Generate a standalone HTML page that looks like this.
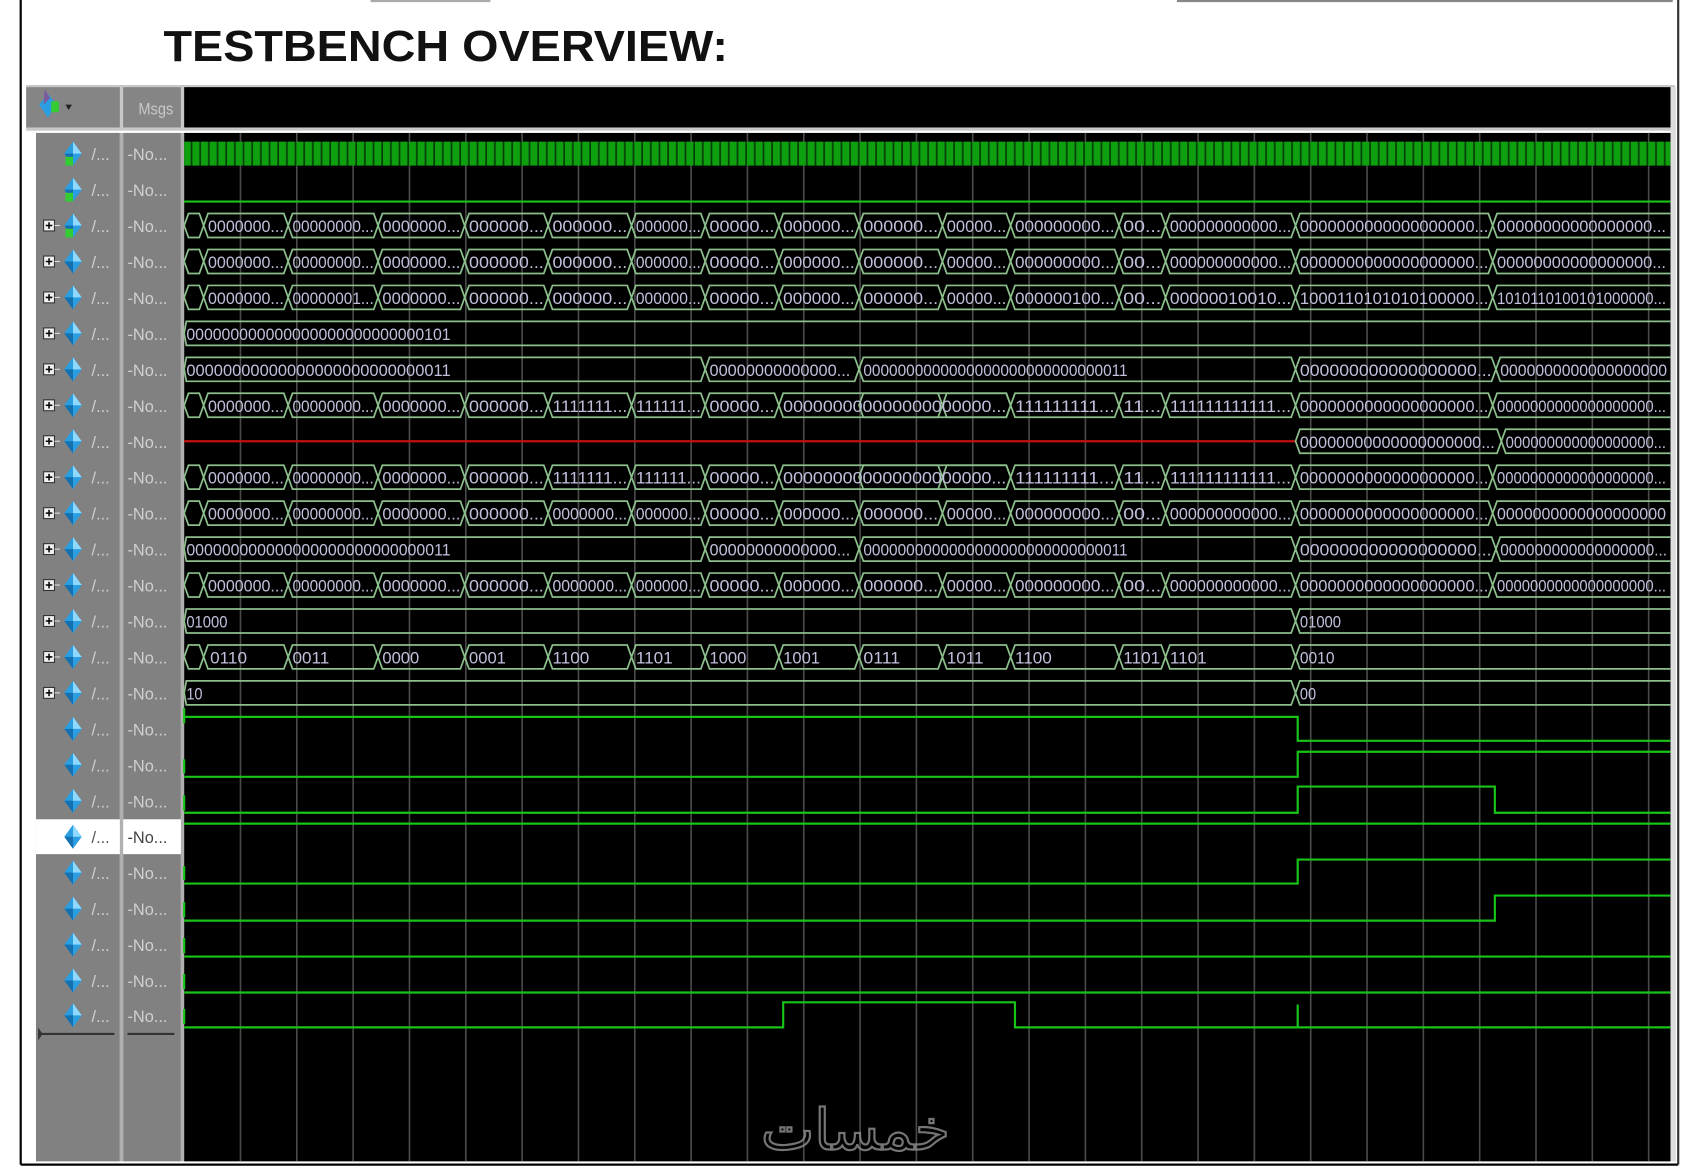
<!DOCTYPE html>
<html><head><meta charset="utf-8"><style>
html,body{margin:0;padding:0;background:#fff;width:1700px;height:1169px;overflow:hidden}
svg{display:block}
.t{font-family:"Liberation Sans",sans-serif;font-size:15px;fill:#c0c0dc}
.l{font-family:"Liberation Sans",sans-serif;font-size:15px;fill:#d0d0d0}
.b{fill:none;stroke:#8cbf8c;stroke-width:1.6}
.g{fill:none;stroke:#19c419;stroke-width:2}
</style></head><body>
<svg width="1700" height="1169" viewBox="0 0 1560 1073" preserveAspectRatio="none" xmlns="http://www.w3.org/2000/svg">
<defs>
<pattern id="clk" x="169" y="0" width="8" height="30" patternUnits="userSpaceOnUse">
<rect width="8" height="30" fill="#0fa00f"/><rect x="6" width="1.6" height="30" fill="#064006"/>
</pattern>
<g id="diam"><polygon points="0,-11 8,0 0,11 -8,0" fill="#2a9ee0"/><polygon points="0,-11 8,0 0,0" fill="#8fd8ff"/><polygon points="0,11 -8,0 0,0" fill="#1570b0"/></g>
<g id="plus"><rect x="-5" y="-5" width="10" height="10" fill="#f0f0f0" stroke="#333" stroke-width="1"/><path d="M-3,0H3M0,-3V3" stroke="#000" stroke-width="1.4"/><path d="M5,0H10" stroke="#ddd" stroke-width="1"/></g>
<g id="busB">
<polygon class="b" points="169,0 173,-11 183,-11 187,0 183,11 173,11"/>
<polygon class="b" points="187,0 191,-11 261,-11 265,0 261,11 191,11"/>
<polygon class="b" points="265,0 269,-11 344,-11 348,0 344,11 269,11"/>
<polygon class="b" points="348,0 352,-11 424,-11 428,0 424,11 352,11"/>
<polygon class="b" points="428,0 432,-11 501,-11 505,0 501,11 432,11"/>
<polygon class="b" points="505,0 509,-11 578,-11 582,0 578,11 509,11"/>
<polygon class="b" points="582,0 586,-11 646,-11 650,0 646,11 586,11"/>
<polygon class="b" points="650,0 654,-11 714,-11 718,0 714,11 654,11"/>
<polygon class="b" points="792,0 796,-11 865,-11 869,0 865,11 796,11"/>
<polygon class="b" points="869,0 873,-11 928,-11 932,0 928,11 873,11"/>
<polygon class="b" points="932,0 936,-11 1028,-11 1032,0 1028,11 936,11"/>
<polygon class="b" points="1032,0 1036,-11 1071,-11 1075,0 1071,11 1036,11"/>
<polygon class="b" points="1075,0 1079,-11 1191,-11 1195,0 1191,11 1079,11"/>
</g>
<g id="busTail"><polygon class="b" points="1195,0 1199,-11 1373,-11 1377,0 1373,11 1199,11"/><polyline class="b" points="1541,-11 1381,-11 1377,0 1381,11 1541,11"/></g>
<g id="seg718"><polygon class="b" points="718,0 722,-11 788,-11 792,0 788,11 722,11"/></g>
<g id="seg718b"><polygon class="b" points="718,0 722,-11 928,-11 932,0 928,11 722,11"/></g>
<g id="busC">
<polygon class="b" points="169,0 171,-11 646,-11 650,0 646,11 171,11"/>
<polygon class="b" points="650,0 654,-11 788,-11 792,0 788,11 654,11"/>
<polygon class="b" points="792,0 796,-11 1191,-11 1195,0 1191,11 796,11"/>
<polygon class="b" points="1195,0 1199,-11 1376,-11 1380,0 1376,11 1199,11"/>
<polyline class="b" points="1541,-11 1384,-11 1380,0 1384,11 1541,11"/>
</g>
<g id="busD">
<polygon class="b" points="169,0 171,-11 1191,-11 1195,0 1191,11 171,11"/>
<polyline class="b" points="1541,-11 1199,-11 1195,0 1199,11 1541,11"/>
</g>
</defs>

<!-- frame -->
<rect width="1560" height="1073" fill="#fff"/>
<line x1="19" y1="0" x2="19" y2="1069" stroke="#000" stroke-width="2"/>
<line x1="19" y1="1069" x2="1540" y2="1069" stroke="#000" stroke-width="2"/>
<line x1="1540" y1="0" x2="1540" y2="1069" stroke="#333" stroke-width="2"/>
<line x1="340" y1="1" x2="450" y2="1" stroke="#aaa" stroke-width="2"/>
<line x1="1080" y1="1" x2="1535" y2="1" stroke="#888" stroke-width="2"/>
<text x="150" y="56" font-family="Liberation Sans,sans-serif" font-weight="bold" font-size="40" textLength="518" lengthAdjust="spacingAndGlyphs" fill="#111">TESTBENCH OVERVIEW:</text>

<!-- header -->
<rect x="24" y="78" width="1513" height="42" fill="#c8c8c8"/>
<rect x="24" y="80" width="86" height="37" fill="#858585"/>
<rect x="113" y="80" width="53" height="37" fill="#858585"/>
<rect x="169" y="80" width="1364" height="37" fill="#000"/>
<polygon points="44,86 52,96 44,108 36,96" fill="#2a9ee0"/><rect x="47" y="93" width="7" height="10" fill="#3c3"/><polygon points="41,82 46,90 40,96" fill="#7a5aa0"/>
<polygon points="60,96 66,96 63,101" fill="#222"/>
<text x="127" y="105" class="l" textLength="32" lengthAdjust="spacingAndGlyphs" style="fill:#c8c8c8">Msgs</text>

<!-- panels -->
<rect x="33" y="122" width="77" height="944" fill="#818181"/>
<rect x="113" y="122" width="53" height="944" fill="#818181"/>
<rect x="110" y="122" width="3" height="944" fill="#b0b0b0"/>
<rect x="166" y="122" width="3" height="944" fill="#b0b0b0"/>
<rect x="169" y="122" width="1364" height="944" fill="#000"/>
<rect x="1533" y="80" width="5" height="986" fill="#ddd"/>
<rect x="33" y="752" width="77" height="32" fill="#fff"/>
<rect x="113" y="752" width="53" height="32" fill="#fff"/>
<line x1="36" y1="949" x2="105" y2="949" stroke="#333" stroke-width="2"/>
<polygon points="35,943 39,949 35,955" fill="#333"/>
<line x1="117" y1="949" x2="160" y2="949" stroke="#333" stroke-width="2"/>

<!-- left labels -->
<g>
<use href="#diam" x="67" y="141"/><use href="#diam" x="67" y="174"/><use href="#diam" x="67" y="207"/><use href="#diam" x="67" y="240"/><use href="#diam" x="67" y="273"/><use href="#diam" x="67" y="306"/><use href="#diam" x="67" y="339"/><use href="#diam" x="67" y="372"/><use href="#diam" x="67" y="405"/><use href="#diam" x="67" y="438"/><use href="#diam" x="67" y="471"/><use href="#diam" x="67" y="504"/><use href="#diam" x="67" y="537"/><use href="#diam" x="67" y="570"/><use href="#diam" x="67" y="603"/><use href="#diam" x="67" y="636"/><use href="#diam" x="67" y="669"/><use href="#diam" x="67" y="702"/><use href="#diam" x="67" y="735"/><use href="#diam" x="67" y="768"/><use href="#diam" x="67" y="801"/><use href="#diam" x="67" y="834"/><use href="#diam" x="67" y="867"/><use href="#diam" x="67" y="900"/><use href="#diam" x="67" y="932"/>
<rect x="60" y="144" width="7" height="8" fill="#3c3"/><rect x="60" y="177" width="7" height="8" fill="#3c3"/><rect x="60" y="210" width="7" height="8" fill="#3c3"/>
<use href="#plus" x="45" y="207"/><use href="#plus" x="45" y="240"/><use href="#plus" x="45" y="273"/><use href="#plus" x="45" y="306"/><use href="#plus" x="45" y="339"/><use href="#plus" x="45" y="372"/><use href="#plus" x="45" y="405"/><use href="#plus" x="45" y="438"/><use href="#plus" x="45" y="471"/><use href="#plus" x="45" y="504"/><use href="#plus" x="45" y="537"/><use href="#plus" x="45" y="570"/><use href="#plus" x="45" y="603"/><use href="#plus" x="45" y="636"/>
</g>
<g class="l">
<text x="84" y="147">/...</text><text x="117" y="147">-No...</text>
<text x="84" y="180">/...</text><text x="117" y="180">-No...</text>
<text x="84" y="213">/...</text><text x="117" y="213">-No...</text>
<text x="84" y="246">/...</text><text x="117" y="246">-No...</text>
<text x="84" y="279">/...</text><text x="117" y="279">-No...</text>
<text x="84" y="312">/...</text><text x="117" y="312">-No...</text>
<text x="84" y="345">/...</text><text x="117" y="345">-No...</text>
<text x="84" y="378">/...</text><text x="117" y="378">-No...</text>
<text x="84" y="411">/...</text><text x="117" y="411">-No...</text>
<text x="84" y="444">/...</text><text x="117" y="444">-No...</text>
<text x="84" y="477">/...</text><text x="117" y="477">-No...</text>
<text x="84" y="510">/...</text><text x="117" y="510">-No...</text>
<text x="84" y="543">/...</text><text x="117" y="543">-No...</text>
<text x="84" y="576">/...</text><text x="117" y="576">-No...</text>
<text x="84" y="609">/...</text><text x="117" y="609">-No...</text>
<text x="84" y="642">/...</text><text x="117" y="642">-No...</text>
<text x="84" y="675">/...</text><text x="117" y="675">-No...</text>
<text x="84" y="708">/...</text><text x="117" y="708">-No...</text>
<text x="84" y="741">/...</text><text x="117" y="741">-No...</text>
<text x="84" y="774" style="fill:#555">/...</text><text x="117" y="774" style="fill:#444">-No...</text>
<text x="84" y="807">/...</text><text x="117" y="807">-No...</text>
<text x="84" y="840">/...</text><text x="117" y="840">-No...</text>
<text x="84" y="873">/...</text><text x="117" y="873">-No...</text>
<text x="84" y="906">/...</text><text x="117" y="906">-No...</text>
<text x="84" y="938">/...</text><text x="117" y="938">-No...</text>
</g>

<g transform="translate(169,0) scale(0.994,1) translate(-169,0)">
<!-- grid -->
<g stroke="#4a4a4a" stroke-width="1.5">
<line x1="221" y1="122" x2="221" y2="1066"/><line x1="273" y1="122" x2="273" y2="1066"/><line x1="325" y1="122" x2="325" y2="1066"/><line x1="377" y1="122" x2="377" y2="1066"/><line x1="429" y1="122" x2="429" y2="1066"/><line x1="481" y1="122" x2="481" y2="1066"/><line x1="533" y1="122" x2="533" y2="1066"/><line x1="585" y1="122" x2="585" y2="1066"/><line x1="637" y1="122" x2="637" y2="1066"/><line x1="689" y1="122" x2="689" y2="1066"/><line x1="741" y1="122" x2="741" y2="1066"/><line x1="793" y1="122" x2="793" y2="1066"/><line x1="845" y1="122" x2="845" y2="1066"/><line x1="897" y1="122" x2="897" y2="1066"/><line x1="949" y1="122" x2="949" y2="1066"/><line x1="1001" y1="122" x2="1001" y2="1066"/><line x1="1053" y1="122" x2="1053" y2="1066"/><line x1="1105" y1="122" x2="1105" y2="1066"/><line x1="1157" y1="122" x2="1157" y2="1066"/><line x1="1209" y1="122" x2="1209" y2="1066"/><line x1="1261" y1="122" x2="1261" y2="1066"/><line x1="1313" y1="122" x2="1313" y2="1066"/><line x1="1365" y1="122" x2="1365" y2="1066"/><line x1="1417" y1="122" x2="1417" y2="1066"/><line x1="1469" y1="122" x2="1469" y2="1066"/><line x1="1521" y1="122" x2="1521" y2="1066"/>
</g>

<rect x="169" y="130" width="1372" height="22" fill="url(#clk)"/>
<line class="g" x1="169" y1="185" x2="1541" y2="185"/>

<g transform="translate(0,207)"><use href="#busB"/><use href="#seg718"/><use href="#busTail"/>
<g class="t"><text x="191" y="6" textLength="70" lengthAdjust="spacingAndGlyphs">0000000...</text><text x="269" y="6" textLength="75" lengthAdjust="spacingAndGlyphs">00000000...</text><text x="352" y="6" textLength="72" lengthAdjust="spacingAndGlyphs">0000000...</text><text x="432" y="6" textLength="69" lengthAdjust="spacingAndGlyphs">000000...</text><text x="509" y="6" textLength="69" lengthAdjust="spacingAndGlyphs">000000...</text><text x="586" y="6" textLength="60" lengthAdjust="spacingAndGlyphs">000000...</text><text x="654" y="6" textLength="60" lengthAdjust="spacingAndGlyphs">00000...</text><text x="722" y="6" textLength="66" lengthAdjust="spacingAndGlyphs">000000...</text><text x="796" y="6" textLength="69" lengthAdjust="spacingAndGlyphs">000000...</text><text x="873" y="6" textLength="55" lengthAdjust="spacingAndGlyphs">00000...</text><text x="936" y="6" textLength="92" lengthAdjust="spacingAndGlyphs">000000000...</text><text x="1036" y="6" textLength="35" lengthAdjust="spacingAndGlyphs">00...</text><text x="1079" y="6" textLength="112" lengthAdjust="spacingAndGlyphs">000000000000...</text><text x="1199" y="6" textLength="174" lengthAdjust="spacingAndGlyphs">0000000000000000000...</text><text x="1381" y="6" textLength="156" lengthAdjust="spacingAndGlyphs">00000000000000000...</text></g></g>

<g transform="translate(0,240)"><use href="#busB"/><use href="#seg718"/><use href="#busTail"/>
<g class="t"><text x="191" y="6" textLength="70" lengthAdjust="spacingAndGlyphs">0000000...</text><text x="269" y="6" textLength="75" lengthAdjust="spacingAndGlyphs">00000000...</text><text x="352" y="6" textLength="72" lengthAdjust="spacingAndGlyphs">0000000...</text><text x="432" y="6" textLength="69" lengthAdjust="spacingAndGlyphs">000000...</text><text x="509" y="6" textLength="69" lengthAdjust="spacingAndGlyphs">000000...</text><text x="586" y="6" textLength="60" lengthAdjust="spacingAndGlyphs">000000...</text><text x="654" y="6" textLength="60" lengthAdjust="spacingAndGlyphs">00000...</text><text x="722" y="6" textLength="66" lengthAdjust="spacingAndGlyphs">000000...</text><text x="796" y="6" textLength="69" lengthAdjust="spacingAndGlyphs">000000...</text><text x="873" y="6" textLength="55" lengthAdjust="spacingAndGlyphs">00000...</text><text x="936" y="6" textLength="92" lengthAdjust="spacingAndGlyphs">000000000...</text><text x="1036" y="6" textLength="35" lengthAdjust="spacingAndGlyphs">00...</text><text x="1079" y="6" textLength="112" lengthAdjust="spacingAndGlyphs">000000000000...</text><text x="1199" y="6" textLength="174" lengthAdjust="spacingAndGlyphs">0000000000000000000...</text><text x="1381" y="6" textLength="156" lengthAdjust="spacingAndGlyphs">00000000000000000...</text></g></g>

<g transform="translate(0,273)"><use href="#busB"/><use href="#seg718"/><use href="#busTail"/>
<g class="t"><text x="191" y="6" textLength="70" lengthAdjust="spacingAndGlyphs">0000000...</text><text x="269" y="6" textLength="75" lengthAdjust="spacingAndGlyphs">00000001...</text><text x="352" y="6" textLength="72" lengthAdjust="spacingAndGlyphs">0000000...</text><text x="432" y="6" textLength="69" lengthAdjust="spacingAndGlyphs">000000...</text><text x="509" y="6" textLength="69" lengthAdjust="spacingAndGlyphs">000000...</text><text x="586" y="6" textLength="60" lengthAdjust="spacingAndGlyphs">000000...</text><text x="654" y="6" textLength="60" lengthAdjust="spacingAndGlyphs">00000...</text><text x="722" y="6" textLength="66" lengthAdjust="spacingAndGlyphs">000000...</text><text x="796" y="6" textLength="69" lengthAdjust="spacingAndGlyphs">000000...</text><text x="873" y="6" textLength="55" lengthAdjust="spacingAndGlyphs">00000...</text><text x="936" y="6" textLength="92" lengthAdjust="spacingAndGlyphs">000000100...</text><text x="1036" y="6" textLength="35" lengthAdjust="spacingAndGlyphs">00...</text><text x="1079" y="6" textLength="112" lengthAdjust="spacingAndGlyphs">00000010010...</text><text x="1199" y="6" textLength="174" lengthAdjust="spacingAndGlyphs">1000110101010100000...</text><text x="1381" y="6" textLength="156" lengthAdjust="spacingAndGlyphs">1010110100101000000...</text></g></g>

<g transform="translate(0,306)"><polyline class="b" points="1541,-11 171,-11 169,0 171,11 1541,11"/>
<text class="t" x="171" y="6" textLength="244" lengthAdjust="spacingAndGlyphs">000000000000000000000000000101</text></g>

<g transform="translate(0,339)"><use href="#busC"/>
<g class="t"><text x="171" y="6" textLength="244" lengthAdjust="spacingAndGlyphs">00000000000000000000000000011</text><text x="654" y="6" textLength="130" lengthAdjust="spacingAndGlyphs">00000000000000...</text><text x="796" y="6" textLength="244" lengthAdjust="spacingAndGlyphs">0000000000000000000000000000011</text><text x="1199" y="6" textLength="177" lengthAdjust="spacingAndGlyphs">000000000000000000...</text><text x="1384" y="6" textLength="154" lengthAdjust="spacingAndGlyphs">0000000000000000000</text></g></g>

<g transform="translate(0,372)"><use href="#busB"/><use href="#seg718b"/><use href="#busTail"/>
<g class="t"><text x="191" y="6" textLength="70" lengthAdjust="spacingAndGlyphs">0000000...</text><text x="269" y="6" textLength="75" lengthAdjust="spacingAndGlyphs">00000000...</text><text x="352" y="6" textLength="72" lengthAdjust="spacingAndGlyphs">0000000...</text><text x="432" y="6" textLength="69" lengthAdjust="spacingAndGlyphs">000000...</text><text x="509" y="6" textLength="69" lengthAdjust="spacingAndGlyphs">1111111...</text><text x="586" y="6" textLength="60" lengthAdjust="spacingAndGlyphs">111111...</text><text x="654" y="6" textLength="60" lengthAdjust="spacingAndGlyphs">00000...</text><text x="722" y="6" textLength="206" lengthAdjust="spacingAndGlyphs">000000000000000000000...</text><text x="936" y="6" textLength="92" lengthAdjust="spacingAndGlyphs">111111111...</text><text x="1036" y="6" textLength="35" lengthAdjust="spacingAndGlyphs">11...</text><text x="1079" y="6" textLength="112" lengthAdjust="spacingAndGlyphs">111111111111...</text><text x="1199" y="6" textLength="174" lengthAdjust="spacingAndGlyphs">0000000000000000000...</text><text x="1381" y="6" textLength="156" lengthAdjust="spacingAndGlyphs">0000000000000000000...</text></g></g>

<g transform="translate(0,405)"><line x1="169" y1="0" x2="1195" y2="0" stroke="#c01010" stroke-width="2"/>
<polygon class="b" points="1195,0 1199,-11 1381,-11 1385,0 1381,11 1199,11"/><polyline class="b" points="1541,-11 1389,-11 1385,0 1389,11 1541,11"/>
<g class="t"><text x="1199" y="6" textLength="180" lengthAdjust="spacingAndGlyphs">00000000000000000000...</text><text x="1389" y="6" textLength="148" lengthAdjust="spacingAndGlyphs">000000000000000000...</text></g></g>

<g transform="translate(0,438)"><use href="#busB"/><use href="#seg718b"/><use href="#busTail"/>
<g class="t"><text x="191" y="6" textLength="70" lengthAdjust="spacingAndGlyphs">0000000...</text><text x="269" y="6" textLength="75" lengthAdjust="spacingAndGlyphs">00000000...</text><text x="352" y="6" textLength="72" lengthAdjust="spacingAndGlyphs">0000000...</text><text x="432" y="6" textLength="69" lengthAdjust="spacingAndGlyphs">000000...</text><text x="509" y="6" textLength="69" lengthAdjust="spacingAndGlyphs">1111111...</text><text x="586" y="6" textLength="60" lengthAdjust="spacingAndGlyphs">111111...</text><text x="654" y="6" textLength="60" lengthAdjust="spacingAndGlyphs">00000...</text><text x="722" y="6" textLength="206" lengthAdjust="spacingAndGlyphs">000000000000000000000...</text><text x="936" y="6" textLength="92" lengthAdjust="spacingAndGlyphs">111111111...</text><text x="1036" y="6" textLength="35" lengthAdjust="spacingAndGlyphs">11...</text><text x="1079" y="6" textLength="112" lengthAdjust="spacingAndGlyphs">111111111111...</text><text x="1199" y="6" textLength="174" lengthAdjust="spacingAndGlyphs">0000000000000000000...</text><text x="1381" y="6" textLength="156" lengthAdjust="spacingAndGlyphs">0000000000000000000...</text></g></g>

<g transform="translate(0,471)"><use href="#busB"/><use href="#seg718"/><use href="#busTail"/>
<g class="t"><text x="191" y="6" textLength="70" lengthAdjust="spacingAndGlyphs">0000000...</text><text x="269" y="6" textLength="75" lengthAdjust="spacingAndGlyphs">00000000...</text><text x="352" y="6" textLength="72" lengthAdjust="spacingAndGlyphs">0000000...</text><text x="432" y="6" textLength="69" lengthAdjust="spacingAndGlyphs">000000...</text><text x="509" y="6" textLength="69" lengthAdjust="spacingAndGlyphs">0000000...</text><text x="586" y="6" textLength="60" lengthAdjust="spacingAndGlyphs">000000...</text><text x="654" y="6" textLength="60" lengthAdjust="spacingAndGlyphs">00000...</text><text x="722" y="6" textLength="66" lengthAdjust="spacingAndGlyphs">000000...</text><text x="796" y="6" textLength="69" lengthAdjust="spacingAndGlyphs">000000...</text><text x="873" y="6" textLength="55" lengthAdjust="spacingAndGlyphs">00000...</text><text x="936" y="6" textLength="92" lengthAdjust="spacingAndGlyphs">000000000...</text><text x="1036" y="6" textLength="35" lengthAdjust="spacingAndGlyphs">00...</text><text x="1079" y="6" textLength="112" lengthAdjust="spacingAndGlyphs">000000000000...</text><text x="1199" y="6" textLength="174" lengthAdjust="spacingAndGlyphs">0000000000000000000...</text><text x="1381" y="6" textLength="156" lengthAdjust="spacingAndGlyphs">0000000000000000000</text></g></g>

<g transform="translate(0,504)"><use href="#busC"/>
<g class="t"><text x="171" y="6" textLength="244" lengthAdjust="spacingAndGlyphs">000000000000000000000000000011</text><text x="654" y="6" textLength="130" lengthAdjust="spacingAndGlyphs">00000000000000...</text><text x="796" y="6" textLength="244" lengthAdjust="spacingAndGlyphs">0000000000000000000000000000011</text><text x="1199" y="6" textLength="177" lengthAdjust="spacingAndGlyphs">000000000000000000...</text><text x="1384" y="6" textLength="154" lengthAdjust="spacingAndGlyphs">000000000000000000...</text></g></g>

<g transform="translate(0,537)"><use href="#busB"/><use href="#seg718"/><use href="#busTail"/>
<g class="t"><text x="191" y="6" textLength="70" lengthAdjust="spacingAndGlyphs">0000000...</text><text x="269" y="6" textLength="75" lengthAdjust="spacingAndGlyphs">00000000...</text><text x="352" y="6" textLength="72" lengthAdjust="spacingAndGlyphs">0000000...</text><text x="432" y="6" textLength="69" lengthAdjust="spacingAndGlyphs">000000...</text><text x="509" y="6" textLength="69" lengthAdjust="spacingAndGlyphs">0000000...</text><text x="586" y="6" textLength="60" lengthAdjust="spacingAndGlyphs">000000...</text><text x="654" y="6" textLength="60" lengthAdjust="spacingAndGlyphs">00000...</text><text x="722" y="6" textLength="66" lengthAdjust="spacingAndGlyphs">000000...</text><text x="796" y="6" textLength="69" lengthAdjust="spacingAndGlyphs">000000...</text><text x="873" y="6" textLength="55" lengthAdjust="spacingAndGlyphs">00000...</text><text x="936" y="6" textLength="92" lengthAdjust="spacingAndGlyphs">000000000...</text><text x="1036" y="6" textLength="35" lengthAdjust="spacingAndGlyphs">00...</text><text x="1079" y="6" textLength="112" lengthAdjust="spacingAndGlyphs">000000000000...</text><text x="1199" y="6" textLength="174" lengthAdjust="spacingAndGlyphs">0000000000000000000...</text><text x="1381" y="6" textLength="156" lengthAdjust="spacingAndGlyphs">0000000000000000000...</text></g></g>

<g transform="translate(0,570)"><use href="#busD"/>
<g class="t"><text x="171" y="6" textLength="38" lengthAdjust="spacingAndGlyphs">01000</text><text x="1199" y="6" textLength="38" lengthAdjust="spacingAndGlyphs">01000</text></g></g>

<g transform="translate(0,603)"><use href="#busB"/><use href="#seg718"/><polyline class="b" points="1541,-11 1199,-11 1195,0 1199,11 1541,11"/>
<g class="t"><text x="193" y="6" textLength="34" lengthAdjust="spacingAndGlyphs">0110</text><text x="269" y="6" textLength="34" lengthAdjust="spacingAndGlyphs">0011</text><text x="352" y="6" textLength="34" lengthAdjust="spacingAndGlyphs">0000</text><text x="432" y="6" textLength="34" lengthAdjust="spacingAndGlyphs">0001</text><text x="509" y="6" textLength="34" lengthAdjust="spacingAndGlyphs">1100</text><text x="586" y="6" textLength="34" lengthAdjust="spacingAndGlyphs">1101</text><text x="654" y="6" textLength="34" lengthAdjust="spacingAndGlyphs">1000</text><text x="722" y="6" textLength="34" lengthAdjust="spacingAndGlyphs">1001</text><text x="796" y="6" textLength="34" lengthAdjust="spacingAndGlyphs">0111</text><text x="873" y="6" textLength="34" lengthAdjust="spacingAndGlyphs">1011</text><text x="936" y="6" textLength="34" lengthAdjust="spacingAndGlyphs">1100</text><text x="1036" y="6" textLength="34" lengthAdjust="spacingAndGlyphs">1101</text><text x="1079" y="6" textLength="34" lengthAdjust="spacingAndGlyphs">1101</text><text x="1199" y="6" textLength="32" lengthAdjust="spacingAndGlyphs">0010</text></g></g>

<g transform="translate(0,636)"><use href="#busD"/>
<g class="t"><text x="171" y="6" textLength="15" lengthAdjust="spacingAndGlyphs">10</text><text x="1199" y="6" textLength="15" lengthAdjust="spacingAndGlyphs">00</text></g></g>

<g class="g">
<polyline points="169,658 1197,658 1197,680 1541,680"/>
<polyline points="169,713 1197,713 1197,690 1541,690"/>
<polyline points="169,746 1197,746 1197,722 1379,722 1379,746 1541,746"/>
<polyline points="169,756 1541,756"/>
<polyline points="169,811 1197,811 1197,789 1541,789"/>
<polyline points="169,845 1379,845 1379,822 1541,822"/>
<polyline points="169,878 1541,878"/>
<polyline points="169,911 1541,911"/>
<polyline points="169,943 722,943 722,920 936,920 936,943 1541,943"/>
<polyline points="1197,922 1197,943"/>
</g>
<g stroke="#19c419" stroke-width="2"><line x1="169" y1="650" x2="169" y2="664"/><line x1="169" y1="697" x2="169" y2="710"/><line x1="169" y1="730" x2="169" y2="744"/><line x1="169" y1="795" x2="169" y2="808"/><line x1="169" y1="828" x2="169" y2="842"/><line x1="169" y1="861" x2="169" y2="875"/><line x1="169" y1="894" x2="169" y2="908"/><line x1="169" y1="926" x2="169" y2="940"/></g>
</g>

<!-- watermark -->
<text x="785" y="1055" text-anchor="middle" font-family="DejaVu Sans,sans-serif" font-size="52" fill="none" stroke="#8a8a8a" stroke-width="2" opacity="0.85">خمسات</text>
</svg>
</body></html>
